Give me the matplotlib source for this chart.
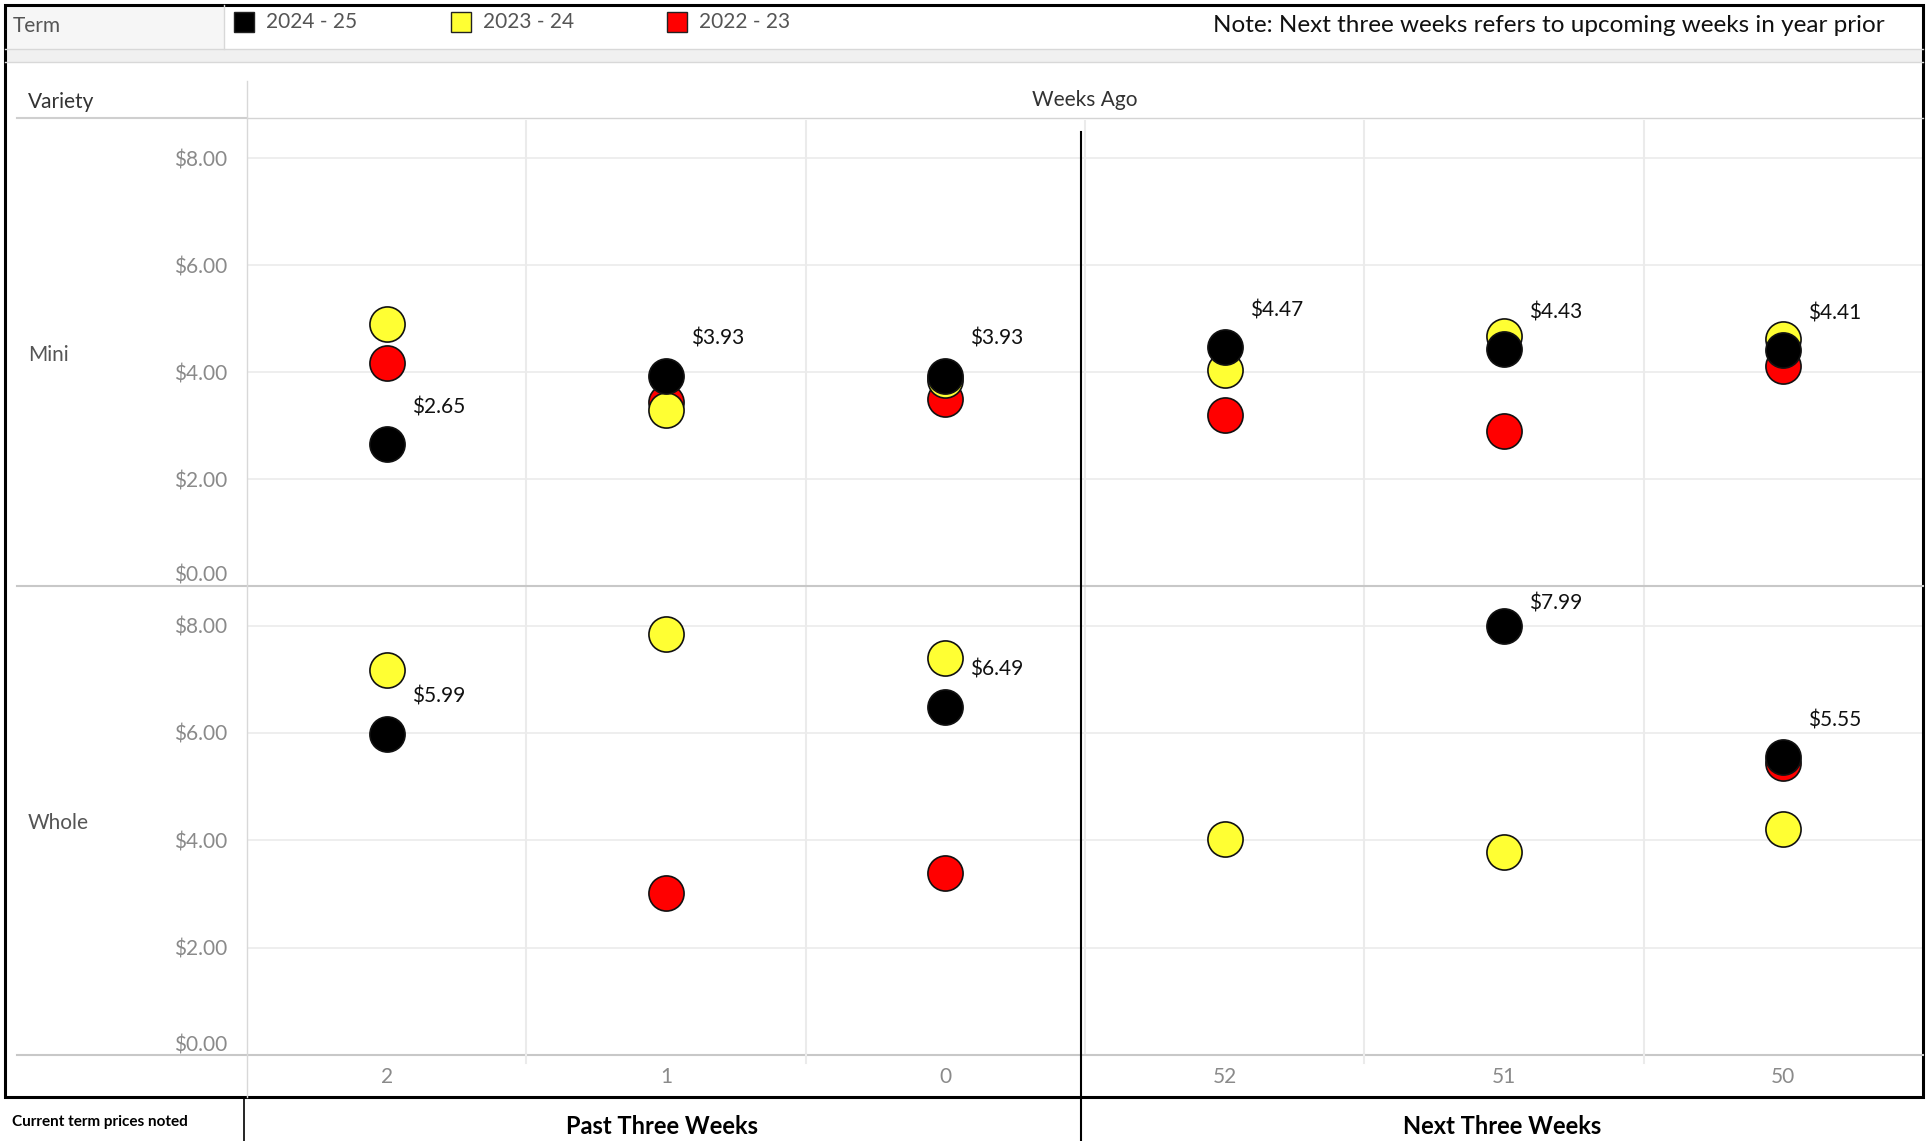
import numpy as np
import matplotlib.pyplot as plt
from matplotlib.lines import Line2D
from matplotlib.patches import Rectangle

# ------------------- data ---------------------------------------------- #
WEEKS      = ["2", "1", "0", "52", "51", "50"]
TERMS      = ["2024 - 25", "2023 - 24", "2022 - 23"]
COLORS     = ["#000000", "#FFFF33", "#FF0000"]
VARIETIES  = ["Mini", "Whole"]

nan = np.nan
mini_2425  = [2.65, 3.93, 3.93, 4.47, 4.43, 4.41]
mini_2324  = [4.90, 3.29, 3.86, 4.05, 4.67, 4.62]
mini_2223  = [4.18, 3.45, 3.49, 3.20, 2.90, 4.11]
whole_2425 = [5.99, nan, 6.49, nan, 7.99, 5.55]
whole_2324 = [7.17, 7.84, 7.40, 4.02, 3.79, 4.21]
whole_2223 = [nan, 3.01, 3.40, nan, nan, 5.45]

YTICKS = [0, 2, 4, 6, 8]
YMAX   = 8.72

# ------------------- layout (pixels) ------------------------------------ #
W, H = 1933, 1141
FONT = "Lato"
GRID = "#ebebeb"
LINE = "#d4d4d4"
GREY = "#555555"
TICK = "#8a8a8a"
LABEL_DX, LABEL_DY = 25, 37   # label offset from marker, px

plt.rcParams["font.family"] = [FONT, "DejaVu Sans"]
fig = plt.figure(figsize=(W / 100, H / 100), dpi=100)

def fx(x): return x / W
def fy(y): return 1 - y / H

def hline(y, x0, x1, c=LINE, lw=1.0):
    fig.add_artist(Line2D([fx(x0), fx(x1)], [fy(y), fy(y)], color=c, lw=lw))

def vline(x, y0, y1, c=LINE, lw=1.0):
    fig.add_artist(Line2D([fx(x), fx(x)], [fy(y0), fy(y1)], color=c, lw=lw))

def txt(x, y, s, **kw):
    fig.text(fx(x), fy(y), s, **kw)

PX0, PX1 = 247, 1923
panels = [(120, 586), (587, 1055)]
series = [[mini_2223, mini_2324, mini_2425], [whole_2223, whole_2324, whole_2425]]

# --------------------- header ------------------------------------------ #
fig.add_artist(Rectangle((fx(5), fy(49)), fx(219), 44 / H, transform=fig.transFigure,
                         fc="#f6f6f6", ec="none"))
fig.add_artist(Rectangle((fx(5), fy(62)), fx(1918), 13 / H, transform=fig.transFigure,
                         fc="#f0f0f0", ec="none"))
hline(49, 5, 1923, c="#d8d8d8")
hline(62, 5, 1923, c="#d8d8d8")
vline(224, 5, 49, c="#d8d8d8")
txt(13, 26, "Term", fontsize=15, color=GREY, va="center")

leg_x = [234, 451, 667]
for lx, lab, c in zip(leg_x, TERMS, COLORS):
    fig.add_artist(Rectangle((fx(lx), fy(32)), 20 / W, 20 / H, transform=fig.transFigure,
                             fc=c, ec="#222222", lw=1.0))
    txt(lx + 32, 22, lab, fontsize=15, color=GREY, va="center")

txt(1885, 25, "Note: Next three weeks refers to upcoming weeks in year prior",
    fontsize=17.5, color="#111111", ha="right", va="center")

txt(28, 102, "Variety", fontsize=15, color="#333333", va="center")
hline(118, 17, PX0, c="#cfcfcf", lw=1.5)
txt(1085, 100, "Weeks Ago", fontsize=15, color="#333333", ha="center", va="center")
hline(118, PX0, PX1)

# --------------------- panels ------------------------------------------ #
x = np.arange(len(WEEKS))
for (y0, y1), name, data in zip(panels, VARIETIES, series):
    ax = fig.add_axes([fx(PX0), fy(y1), fx(PX1 - PX0), (y1 - y0) / H])
    ax.set_xlim(-0.5, len(WEEKS) - 0.5)
    ax.set_ylim(0, YMAX)
    for s in ax.spines.values():
        s.set_visible(False)
    for yt in YTICKS[1:]:
        ax.axhline(yt, color=GRID, lw=1.2, zorder=0)
    for xv in x[1:]:
        ax.axvline(xv - 0.5, color=GRID, lw=1.5, zorder=0)
    ax.set_xticks([])
    ax.set_yticks(YTICKS)
    ax.set_yticklabels([f"${v:.2f}" for v in YTICKS], fontsize=15, color=TICK)
    ax.get_yticklabels()[0].set_va("bottom")
    ax.tick_params(axis="y", length=0, pad=14)

    # red first, black on top
    for vals, c in zip(data, COLORS[::-1]):
        ax.scatter(x, vals, s=640, c=c, edgecolors="#111111", linewidths=1.2,
                   zorder=3, clip_on=False)
    # current term labels, pushed down if they would leave the panel
    for xi, v in zip(x, data[2]):
        if np.isfinite(v):
            room = (YMAX - v) / YMAX * (y1 - y0) - 16
            dy = min(LABEL_DY, room) * 0.72
            ax.annotate(f"${v:.2f}", (xi, v), xytext=(LABEL_DX * 0.72, dy),
                        textcoords="offset points", ha="left", va="center",
                        fontsize=15, color="#111111")

    txt(28, (y0 + y1) / 2 + 2, name, fontsize=15, color=GREY, va="center")

hline(586, 17, PX1, c="#c8c8c8", lw=1.5)
hline(1055, 17, PX1, c="#c8c8c8", lw=1.5)
vline(PX0, 81, 1097, c="#d8d8d8")
for i in range(1, len(WEEKS)):
    if i != 3:
        xc = PX0 + (PX1 - PX0) * i / len(WEEKS)
        vline(xc, 1055, 1063, c=GRID, lw=1.5)
for i, wk in enumerate(WEEKS):
    xc = PX0 + (PX1 - PX0) * (i + 0.5) / len(WEEKS)
    txt(xc, 1077, wk, fontsize=15, color=TICK, ha="center", va="center")

# divider between past and next weeks
vline(1081, 132, 1141, c="#000000", lw=1.5)

# --------------------- border + footer --------------------------------- #
fig.add_artist(Rectangle((fx(5), fy(1097)), fx(1918), 1092 / H, transform=fig.transFigure,
                         fc="none", ec="#000000", lw=2.2))
vline(244, 1097, 1141, c="#000000", lw=1.2)
txt(12, 1122, "Current term prices noted", fontsize=11, fontweight="bold", va="center")
txt(662, 1126, "Past Three Weeks", fontsize=17, fontweight="bold", ha="center", va="center")
txt(1502, 1126, "Next Three Weeks", fontsize=17, fontweight="bold", ha="center", va="center")

plt.savefig("out.png", dpi=100)
